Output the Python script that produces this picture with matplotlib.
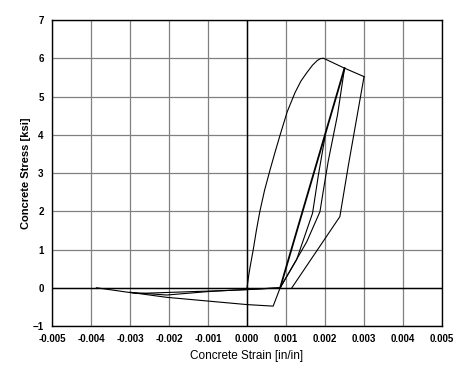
import matplotlib.pyplot as plt

# envelope (first loading)
env_strain = [0.0, 0.00004, 0.00008, 0.00016, 0.00024, 0.00033, 0.00045, 0.00059, 0.00072, 0.00085,
              0.00103, 0.00123, 0.00138, 0.00153, 0.00168, 0.00180, 0.00188, 0.00196, 0.0025, 0.0030]
env_stress = [0.0, 0.3, 0.55, 1.0, 1.5, 2.0, 2.55, 3.08, 3.55, 4.0,
              4.6, 5.1, 5.4, 5.62, 5.82, 5.94, 5.99, 6.0, 5.74, 5.52]

# unloading from 0.0025
unl1_strain = [0.0025, 0.00232, 0.00208, 0.00195, 0.00187, 0.00153, 0.00085]
unl1_stress = [5.74, 4.52, 3.3, 2.5, 1.99, 1.2, 0.0]

# straight reload / unload branch (drawn twice -> thick)
rel1_strain = [0.00085, 0.0025]
rel1_stress = [0.0, 5.74]

# curved reload joining the straight branch
rel2_strain = [0.00085, 0.00127, 0.00168, 0.00183, 0.0020]
rel2_stress = [0.0, 0.73, 1.95, 2.95, 3.95]

# unloading from 0.003
unl2_strain = [0.0030, 0.0026, 0.00238, 0.00115]
unl2_stress = [5.52, 3.21, 1.86, 0.0]

# tension side branches
ten1_strain = [0.00085, 0.0, -0.0005, -0.00283, -0.00386]
ten1_stress = [0.0, -0.05, -0.07, -0.15, 0.0]

ten2_strain = [-0.0030, -0.00206, -0.001, -0.0003, 0.00085]
ten2_stress = [-0.12, -0.19, -0.10, -0.06, 0.0]

ten3_strain = [-0.0030, -0.00206, 0.0, 0.00067, 0.00085]
ten3_stress = [-0.12, -0.25, -0.44, -0.48, 0.0]

xticks = [-0.005, -0.004, -0.003, -0.002, -0.001, 0.0, 0.001, 0.002, 0.003, 0.004, 0.005]
yticks = [-1, 0, 1, 2, 3, 4, 5, 6, 7]

plt.rcParams['font.family'] = ['Liberation Sans', 'DejaVu Sans']

fig = plt.figure(figsize=(4.6, 3.69), dpi=100)
ax = fig.add_axes([0.113, 0.1165, 0.848, 0.8293])

ax.grid(True, color='#808080', linewidth=0.9)
ax.set_axisbelow(True)
ax.axhline(0, color='black', linewidth=1.0, zorder=2)
ax.axvline(0, color='black', linewidth=1.0, zorder=2)

lw = 0.8
ax.plot(env_strain, env_stress, color='black', linewidth=lw, zorder=3)
ax.plot(unl1_strain, unl1_stress, color='black', linewidth=lw, zorder=3)
ax.plot(rel1_strain, rel1_stress, color='black', linewidth=1.3, zorder=3)
ax.plot(rel2_strain, rel2_stress, color='black', linewidth=lw, zorder=3)
ax.plot(unl2_strain, unl2_stress, color='black', linewidth=lw, zorder=3)
ax.plot(ten1_strain, ten1_stress, color='black', linewidth=lw, zorder=3)
ax.plot(ten2_strain, ten2_stress, color='black', linewidth=lw, zorder=3)
ax.plot(ten3_strain, ten3_stress, color='black', linewidth=lw, zorder=3)

ax.set_xlim(-0.005, 0.005)
ax.set_ylim(-1, 7)
ax.set_xticks(xticks)
ax.set_xticklabels([f"{v:.3f}" for v in xticks])
ax.set_yticks(yticks)
ax.tick_params(length=0, labelsize=7, pad=6)
for lab in ax.get_xticklabels() + ax.get_yticklabels():
    lab.set_fontweight('bold')

for s in ax.spines.values():
    s.set_color('black')
    s.set_linewidth(1.0)

ax.set_xlabel("Concrete Strain [in/in]", fontsize=8.5)
ax.set_ylabel("Concrete Stress [ksi]", fontsize=8, fontweight='bold')
ax.xaxis.set_label_coords(0.5, -0.078)
ax.yaxis.set_label_coords(-0.054, 0.5)

fig.savefig("out.png", dpi=100)
